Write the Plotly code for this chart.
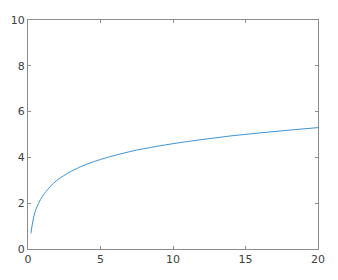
import plotly.graph_objects as go

x_vals = [0.2, 0.5, 1, 1.5, 2, 3, 4, 5, 6, 7, 8, 10, 12, 14, 16, 18, 20]
y_vals = [0.68, 1.65, 2.3, 2.7, 3.0, 3.4, 3.69, 3.91, 4.09, 4.25, 4.38, 4.6, 4.78, 4.94, 5.07, 5.19, 5.3]
x_ticks = [0, 5, 10, 15, 20]
y_ticks = [0, 2, 4, 6, 8, 10]

fig = go.Figure()
fig.add_trace(go.Scatter(x=x_vals, y=y_vals, mode="lines", line=dict(color="#3d95d8", width=1, shape="spline"), hoverinfo="skip"))

axis_common = dict(
    showgrid=False, zeroline=False, showline=True, linecolor="#8c8c8c", linewidth=1,
    mirror="ticks", ticks="inside", ticklen=3, tickcolor="#8c8c8c", tickwidth=1,
    tickfont=dict(family="DejaVu Sans", size=11, color="#404040"),
)
fig.update_xaxes(range=[0, 20], tickvals=x_ticks, **axis_common)
fig.update_yaxes(range=[0, 10], tickvals=y_ticks, **axis_common)
fig.update_layout(
    width=338, height=280, margin=dict(l=28, r=20, t=20, b=31),
    plot_bgcolor="white", paper_bgcolor="white", showlegend=False,
)
fig.write_html("out.html")
